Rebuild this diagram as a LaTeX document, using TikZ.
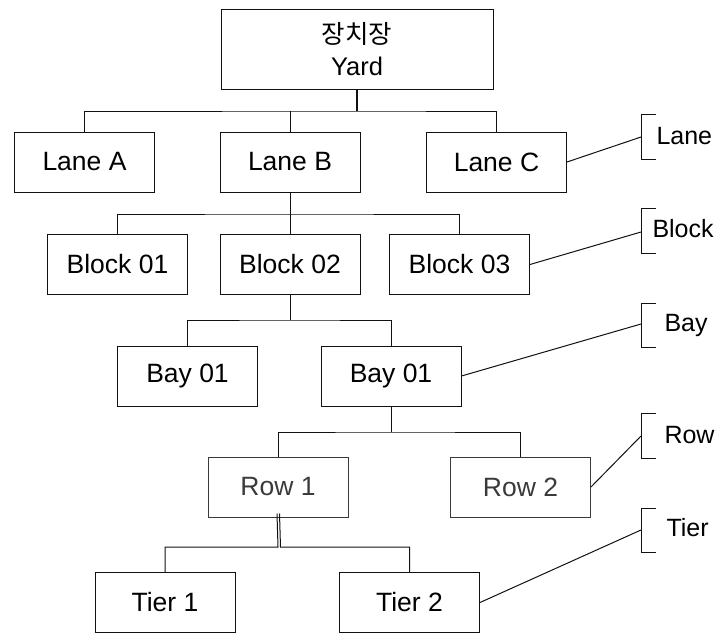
\documentclass[tikz,border=0pt]{standalone}
\usepackage{fontspec}
\setmainfont{Liberation Sans}
\newfontfamily\kofont{Noto Sans CJK KR}
\usepackage{tikz}
\usetikzlibrary{positioning}
\definecolor{yardBlack}{HTML}{111111}
\definecolor{yardGrey}{HTML}{3A3A3A}

\begin{document}
\begin{tikzpicture}[x=1pt, y=-1pt, line width=1pt,
  box/.style={draw=yardBlack, minimum width=140pt, minimum height=60pt, inner sep=0pt,
    font=\fontsize{26.5}{30}\selectfont},
  lightbox/.style={box, draw=yardGrey, text=yardGrey},
  link/.style={draw=yardBlack},
  level/.style={anchor=west, font=\fontsize{25}{28}\selectfont, inner sep=0pt}]
  \useasboundingbox (0,0) rectangle (724,633);
  % root
  \node[box, minimum width=272pt, minimum height=80pt, align=center,
    font=\fontsize{25.5}{32}\selectfont] (yard) at (357,49) {{\kofont 장치장}\\Yard};
  % lanes
  \node[box] (laneA) at (84.5,162) {Lane A};
  \node[box] (laneB) at (290,162) {Lane B};
  \node[box] (laneC) at (496.5,162) {Lane C};
  % blocks
  \node[box] (blk1) at (117.5,264.5) {Block 01};
  \node[box] (blk2) at (290,264.5) {Block 02};
  \node[box] (blk3) at (459.5,264.5) {Block 03};
  % bays
  \node[box] (bay1) at (187.5,376) {Bay 01};
  \node[box] (bay2) at (391,376) {Bay 01};
  % rows
  \node[lightbox] (row1) at (278,487) {Row 1};
  \node[lightbox] (row2) at (520.5,487) {Row 2};
  % tiers
  \node[box] (tier1) at (165,602.5) {Tier 1};
  \node[box] (tier2) at (409.5,602.5) {Tier 2};
  % junctions of the tree
  \coordinate (jYard) at (357,111);
  \coordinate (jLane) at (290,214);
  \coordinate (jBlock) at (290,320);
  \coordinate (jBay) at (391,432);
  \coordinate (jRow) at (279,547);
  \draw[link, line width=1.8pt] (yard.south) -- (jYard);
  \draw[link] (laneA.north) |- (jYard) -| (laneC.north);
  \draw[link] (laneB.north) -- (laneB.north |- jYard);
  \draw[link] (laneB.south) -- (jLane);
  \draw[link] (blk1.north) |- (jLane) -| (blk3.north);
  \draw[link] (blk2.north) -- (jLane);
  \draw[link] (blk2.south) -- (jBlock);
  \draw[link] (bay1.north) |- (jBlock) -| (bay2.north);
  \draw[link] (bay2.south) -- (jBay);
  \draw[link] (row1.north) |- (jBay) -| (row2.north);
  \draw[link] ([xshift=-1pt,yshift=4pt]row1.south) -- ([xshift=-1pt]jRow) -| (tier1.north);
  \draw[link] ([xshift=1.5pt,yshift=4pt]row1.south) -- ([xshift=1.5pt]jRow) -| (tier2.north);
  % level brackets on the right
  \foreach \nm/\top/\bot/\mid/\src in {lane/114/159/137/laneC, block/208/253/232/blk3,
      bay/303/347/324/bay2, row/413/458/436/row2, tier/508/552/530/tier2} {
    \coordinate (\nm Mid) at (641,\mid);
    \draw[link] (656,\top) -- (641,\top) -- (641,\bot) -- (656,\bot);
    \draw[link] (\src.east) -- (\nm Mid);
  }
  \node[level] (lblLane) at (656,136) {Lane};
  \node[level] (lblBlock) at (652,229) {Block};
  \node[level] (lblBay) at (664,325) {Bay};
  \node[level] (lblRow) at (664,435) {Row};
  \node[level] (lblTier) at (666,528) {Tier};
\end{tikzpicture}
\end{document}
